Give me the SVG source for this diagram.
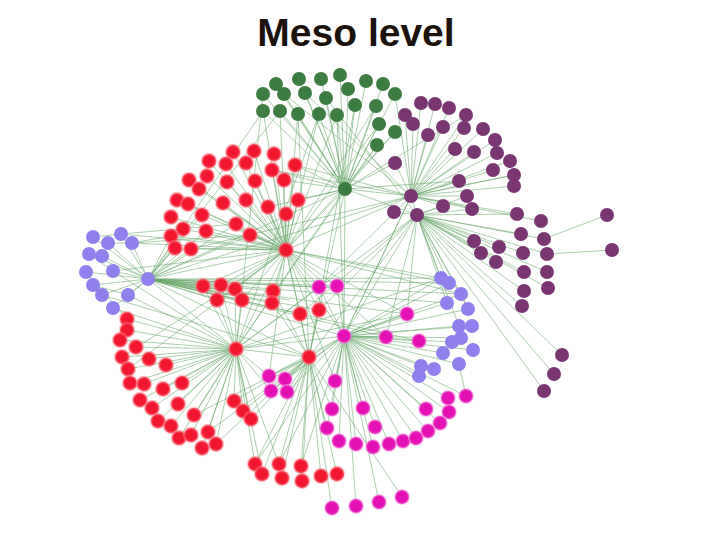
<svg xmlns="http://www.w3.org/2000/svg" width="720" height="540" viewBox="0 0 720 540">
<style>
.e{fill:none;stroke:#6aa86c;stroke-width:.8;stroke-opacity:.7}
.g{fill:#3d7d42}
.p{fill:#7a3673}
.r{fill:#f0172f;stroke:#ff7a86;stroke-width:2.5;stroke-opacity:.45}
.m{fill:#e412b4;stroke:#f590de;stroke-width:2;stroke-opacity:.45}
.l{fill:#8f80ee}
.t{font-family:"Liberation Sans",Arial,sans-serif;font-weight:bold;font-size:39px;fill:#1c120c}
</style>
<rect width="720" height="540" fill="#fff"/>
<text class="t" x="356" y="46" text-anchor="middle">Meso level</text>
<g id="connectors">
<path class="e" d="M345 189L263 94M345 189L276 84M345 189L284 94M345 189L299 79M345 189L305 93M345 189L321 79M345 189L326 98M345 189L340 75M345 189L348 89M345 189L366 81M345 189L383 84M345 189L395 94M345 189L263 111M345 189L280 111M345 189L298 114M345 189L319 114M345 189L337 115M345 189L355 105M345 189L376 106M345 189L379 124M345 189L395 132M345 189L377 145"/>
<path class="e" d="M263 111L286 250M280 111L286 250M298 114L286 250M319 114L286 250M337 115L286 250M284 94L411 196M305 93L411 196M326 98L417 215M376 106L286 250M379 124L286 250M395 132L286 250M377 145L236 349M395 94L411 196M355 105L309 357M337 115L344 336M319 114L236 349M263 111L148 279M280 111L148 279M263 94L236 349M298 114L309 357"/>
<path class="e" d="M345 189L286 250M345 189L411 196M345 189L417 215M345 189L148 279M345 189L344 336M345 189L236 349M345 189L309 357M345 189L295 165M345 189L284 180M345 189L298 200M345 189L395 163M345 189L466 115M345 189L459 181M345 189L272 170M345 189L268 207"/>
<path class="e" d="M411 196L421 103M411 196L435 104M411 196L449 108M411 196L466 115M411 196L405 115M411 196L413 124M411 196L428 135M411 196L443 127M411 196L464 128M411 196L483 129M411 196L495 140M411 196L455 149M411 196L474 152M411 196L497 153M411 196L510 161M411 196L493 170M411 196L514 175M411 196L514 186M411 196L395 163M411 196L459 181M411 196L467 196M411 196L443 206M411 196L472 209M411 196L517 214M411 196L541 221"/>
<path class="e" d="M417 215L394 212M417 215L521 234M417 215L544 239M417 215L474 241M417 215L499 247M417 215L481 253M417 215L523 253M417 215L547 254M417 215L496 262M417 215L524 272M417 215L547 272M417 215L524 291M417 215L548 288M417 215L522 306M417 215L562 355M417 215L554 374M417 215L544 391M417 215L411 196M417 215L443 206M417 215L472 209M417 215L467 196M607 215L544 239M612 250L547 254M411 196L514 175M417 215L517 214"/>
<path class="e" d="M411 196L286 250M411 196L148 279M411 196L344 336M417 215L236 349M417 215L309 357M411 196L319 287M417 215L441 278M417 215L449 283M417 215L461 294M417 215L447 303M417 215L407 314M417 215L386 337M411 196L272 170M411 196L295 165M417 215L300 314M417 215L319 310M417 215L468 309M417 215L459 326M411 196L191 249"/>
<path class="e" d="M286 250L233 152M286 250L254 151M286 250L274 154M286 250L209 161M286 250L226 164M286 250L246 163M286 250L272 170M286 250L295 165M286 250L189 180M286 250L207 176M286 250L227 182M286 250L255 181M286 250L284 180M286 250L199 189M286 250L177 200M286 250L188 204M286 250L223 203M286 250L246 200M286 250L268 207M286 250L298 200M286 250L202 215M286 250L286 214M286 250L171 217M286 250L183 229M286 250L206 231M286 250L236 224M286 250L250 235M286 250L171 236M286 250L175 248M286 250L191 249"/>
<path class="e" d="M286 250L148 279M286 250L203 286M286 250L221 285M286 250L235 289M286 250L217 300M286 250L242 300M286 250L273 291M286 250L272 303M286 250L300 314M286 250L319 310M286 250L319 287M286 250L337 286M286 250L236 349M286 250L309 357M286 250L344 336M286 250L407 314M286 250L441 278M286 250L449 283M286 250L461 294M286 250L335 381M286 250L386 337M286 250L269 376M286 250L122 357M286 250L128 369M286 250L132 243M286 250L121 234M286 250L113 271"/>
<path class="e" d="M148 279L93 237M148 279L121 234M148 279L108 243M148 279L132 243M148 279L89 254M148 279L102 256M148 279L86 272M148 279L113 271M148 279L93 285M148 279L102 295M148 279L128 295M148 279L113 308M93 237L121 234M108 243L132 243M89 254L113 271M93 285L128 295"/>
<path class="e" d="M148 279L203 286M148 279L221 285M148 279L235 289M148 279L217 300M148 279L242 300M148 279L273 291M148 279L272 303M148 279L300 314M148 279L319 310M148 279L319 287M148 279L337 286M148 279L344 336M148 279L309 357M148 279L236 349M148 279L407 314M148 279L441 278M148 279L386 337M148 279L419 341M148 279L461 294M148 279L447 303M148 279L191 249M148 279L175 248M148 279L171 236M148 279L183 229M148 279L202 215M148 279L206 231M148 279L250 235M148 279L236 224M148 279L449 283M148 279L211 290M148 279L230 295M148 279L260 296M148 279L290 300"/>
<path class="e" d="M132 243L171 236M121 234L236 224M113 271L236 349M128 295L236 349M113 308L236 349M102 295L309 357M132 243L250 235M86 272L127 319"/>
<path class="e" d="M236 349L127 319M236 349L127 330M236 349L120 340M236 349L136 347M236 349L122 357M236 349L149 359M236 349L166 365M236 349L128 369M236 349L130 383M236 349L144 384M236 349L163 389M236 349L182 383M236 349L140 400M236 349L152 408M236 349L178 404M236 349L158 421M236 349L194 415M236 349L171 426M236 349L179 438M236 349L191 435M236 349L208 432M236 349L202 448M236 349L216 444M236 349L234 401M236 349L243 411M236 349L251 419"/>
<path class="e" d="M236 349L203 286M236 349L221 285M236 349L235 289M236 349L217 300M236 349L242 300M236 349L344 336M236 349L309 357M236 349L255 464M236 349L262 474M236 349L279 464M236 349L269 376M236 349L271 391M236 349L407 314M236 349L441 278M236 349L319 287"/>
<path class="e" d="M309 357L255 464M309 357L262 474M309 357L279 464M309 357L282 478M309 357L301 466M309 357L302 481M309 357L321 476M309 357L337 474M309 357L269 376M309 357L285 379M309 357L271 391M309 357L287 392M309 357L234 401M309 357L243 411M309 357L251 419M309 357L300 314M309 357L319 310M309 357L273 291M309 357L272 303M309 357L327 428M309 357L332 409M309 357L344 336M309 357L332 508M309 357L402 497M309 357L208 432M309 357L216 444M309 357L194 415M344 336L255 464M344 336L279 464M344 336L301 466"/>
<path class="e" d="M344 336L319 287M344 336L337 286M344 336L407 314M344 336L386 337M344 336L419 341M344 336L335 381M344 336L332 409M344 336L363 408M344 336L426 409M344 336L448 398M344 336L466 396M344 336L449 412M344 336L327 428M344 336L375 427M344 336L440 423M344 336L428 431M344 336L339 441M344 336L356 444M344 336L373 447M344 336L389 444M344 336L403 441M344 336L416 438M344 336L269 376M344 336L285 379M344 336L271 391M344 336L287 392M344 336L356 506M344 336L379 502"/>
<path class="e" d="M344 336L441 278M344 336L449 283M344 336L461 294M344 336L447 303M344 336L468 309M344 336L459 326M344 336L472 326M344 336L461 338M344 336L452 342M344 336L473 350M344 336L443 353M344 336L421 366M344 336L434 369M344 336L459 364M344 336L419 376M344 336L411 196M344 336L417 215M459 364L466 396M441 278L449 283M461 294L468 309M452 342L459 326"/>
</g>
<g id="hub-green"><circle class="g" cx="345" cy="189" r="7"/></g>
<g id="g1"><circle class="g" cx="263" cy="94" r="7"/></g>
<g id="g2"><circle class="g" cx="276" cy="84" r="7"/></g>
<g id="g3"><circle class="g" cx="284" cy="94" r="7"/></g>
<g id="g4"><circle class="g" cx="299" cy="79" r="7"/></g>
<g id="g5"><circle class="g" cx="305" cy="93" r="7"/></g>
<g id="g6"><circle class="g" cx="321" cy="79" r="7"/></g>
<g id="g7"><circle class="g" cx="326" cy="98" r="7"/></g>
<g id="g8"><circle class="g" cx="340" cy="75" r="7"/></g>
<g id="g9"><circle class="g" cx="348" cy="89" r="7"/></g>
<g id="g10"><circle class="g" cx="366" cy="81" r="7"/></g>
<g id="g11"><circle class="g" cx="383" cy="84" r="7"/></g>
<g id="g12"><circle class="g" cx="395" cy="94" r="7"/></g>
<g id="g13"><circle class="g" cx="263" cy="111" r="7"/></g>
<g id="g14"><circle class="g" cx="280" cy="111" r="7"/></g>
<g id="g15"><circle class="g" cx="298" cy="114" r="7"/></g>
<g id="g16"><circle class="g" cx="319" cy="114" r="7"/></g>
<g id="g17"><circle class="g" cx="337" cy="115" r="7"/></g>
<g id="g18"><circle class="g" cx="355" cy="105" r="7"/></g>
<g id="g19"><circle class="g" cx="376" cy="106" r="7"/></g>
<g id="g20"><circle class="g" cx="379" cy="124" r="7"/></g>
<g id="g21"><circle class="g" cx="395" cy="132" r="7"/></g>
<g id="g22"><circle class="g" cx="377" cy="145" r="7"/></g>
<g id="hub-purple-a"><circle class="p" cx="411" cy="196" r="7"/></g>
<g id="hub-purple-b"><circle class="p" cx="417" cy="215" r="7"/></g>
<g id="p1"><circle class="p" cx="421" cy="103" r="7"/></g>
<g id="p2"><circle class="p" cx="435" cy="104" r="7"/></g>
<g id="p3"><circle class="p" cx="449" cy="108" r="7"/></g>
<g id="p4"><circle class="p" cx="466" cy="115" r="7"/></g>
<g id="p5"><circle class="p" cx="405" cy="115" r="7"/></g>
<g id="p6"><circle class="p" cx="413" cy="124" r="7"/></g>
<g id="p7"><circle class="p" cx="428" cy="135" r="7"/></g>
<g id="p8"><circle class="p" cx="443" cy="127" r="7"/></g>
<g id="p9"><circle class="p" cx="464" cy="128" r="7"/></g>
<g id="p10"><circle class="p" cx="483" cy="129" r="7"/></g>
<g id="p11"><circle class="p" cx="495" cy="140" r="7"/></g>
<g id="p12"><circle class="p" cx="455" cy="149" r="7"/></g>
<g id="p13"><circle class="p" cx="474" cy="152" r="7"/></g>
<g id="p14"><circle class="p" cx="497" cy="153" r="7"/></g>
<g id="p15"><circle class="p" cx="510" cy="161" r="7"/></g>
<g id="p16"><circle class="p" cx="493" cy="170" r="7"/></g>
<g id="p17"><circle class="p" cx="514" cy="175" r="7"/></g>
<g id="p18"><circle class="p" cx="514" cy="186" r="7"/></g>
<g id="p19"><circle class="p" cx="395" cy="163" r="7"/></g>
<g id="p20"><circle class="p" cx="459" cy="181" r="7"/></g>
<g id="p21"><circle class="p" cx="467" cy="196" r="7"/></g>
<g id="p22"><circle class="p" cx="443" cy="206" r="7"/></g>
<g id="p23"><circle class="p" cx="472" cy="209" r="7"/></g>
<g id="p24"><circle class="p" cx="394" cy="212" r="7"/></g>
<g id="p25"><circle class="p" cx="517" cy="214" r="7"/></g>
<g id="p26"><circle class="p" cx="541" cy="221" r="7"/></g>
<g id="p27"><circle class="p" cx="607" cy="215" r="7"/></g>
<g id="p28"><circle class="p" cx="521" cy="234" r="7"/></g>
<g id="p29"><circle class="p" cx="544" cy="239" r="7"/></g>
<g id="p30"><circle class="p" cx="474" cy="241" r="7"/></g>
<g id="p31"><circle class="p" cx="499" cy="247" r="7"/></g>
<g id="p32"><circle class="p" cx="481" cy="253" r="7"/></g>
<g id="p33"><circle class="p" cx="523" cy="253" r="7"/></g>
<g id="p34"><circle class="p" cx="547" cy="254" r="7"/></g>
<g id="p35"><circle class="p" cx="612" cy="250" r="7"/></g>
<g id="p36"><circle class="p" cx="496" cy="262" r="7"/></g>
<g id="p37"><circle class="p" cx="524" cy="272" r="7"/></g>
<g id="p38"><circle class="p" cx="547" cy="272" r="7"/></g>
<g id="p39"><circle class="p" cx="524" cy="291" r="7"/></g>
<g id="p40"><circle class="p" cx="548" cy="288" r="7"/></g>
<g id="p41"><circle class="p" cx="522" cy="306" r="7"/></g>
<g id="p42"><circle class="p" cx="562" cy="355" r="7"/></g>
<g id="p43"><circle class="p" cx="554" cy="374" r="7"/></g>
<g id="p44"><circle class="p" cx="544" cy="391" r="7"/></g>
<g id="hub-red-top"><circle class="r" cx="286" cy="250" r="7"/></g>
<g id="hub-red-left"><circle class="r" cx="236" cy="349" r="7"/></g>
<g id="hub-red-mid"><circle class="r" cx="309" cy="357" r="7"/></g>
<g id="r1"><circle class="r" cx="233" cy="152" r="7"/></g>
<g id="r2"><circle class="r" cx="254" cy="151" r="7"/></g>
<g id="r3"><circle class="r" cx="274" cy="154" r="7"/></g>
<g id="r4"><circle class="r" cx="209" cy="161" r="7"/></g>
<g id="r5"><circle class="r" cx="226" cy="164" r="7"/></g>
<g id="r6"><circle class="r" cx="246" cy="163" r="7"/></g>
<g id="r7"><circle class="r" cx="272" cy="170" r="7"/></g>
<g id="r8"><circle class="r" cx="295" cy="165" r="7"/></g>
<g id="r9"><circle class="r" cx="189" cy="180" r="7"/></g>
<g id="r10"><circle class="r" cx="207" cy="176" r="7"/></g>
<g id="r11"><circle class="r" cx="227" cy="182" r="7"/></g>
<g id="r12"><circle class="r" cx="255" cy="181" r="7"/></g>
<g id="r13"><circle class="r" cx="284" cy="180" r="7"/></g>
<g id="r14"><circle class="r" cx="199" cy="189" r="7"/></g>
<g id="r15"><circle class="r" cx="177" cy="200" r="7"/></g>
<g id="r16"><circle class="r" cx="188" cy="204" r="7"/></g>
<g id="r17"><circle class="r" cx="223" cy="203" r="7"/></g>
<g id="r18"><circle class="r" cx="246" cy="200" r="7"/></g>
<g id="r19"><circle class="r" cx="268" cy="207" r="7"/></g>
<g id="r20"><circle class="r" cx="298" cy="200" r="7"/></g>
<g id="r21"><circle class="r" cx="202" cy="215" r="7"/></g>
<g id="r22"><circle class="r" cx="286" cy="214" r="7"/></g>
<g id="r23"><circle class="r" cx="171" cy="217" r="7"/></g>
<g id="r24"><circle class="r" cx="183" cy="229" r="7"/></g>
<g id="r25"><circle class="r" cx="206" cy="231" r="7"/></g>
<g id="r26"><circle class="r" cx="236" cy="224" r="7"/></g>
<g id="r27"><circle class="r" cx="250" cy="235" r="7"/></g>
<g id="r28"><circle class="r" cx="171" cy="236" r="7"/></g>
<g id="r29"><circle class="r" cx="175" cy="248" r="7"/></g>
<g id="r30"><circle class="r" cx="191" cy="249" r="7"/></g>
<g id="r31"><circle class="r" cx="203" cy="286" r="7"/></g>
<g id="r32"><circle class="r" cx="221" cy="285" r="7"/></g>
<g id="r33"><circle class="r" cx="235" cy="289" r="7"/></g>
<g id="r34"><circle class="r" cx="217" cy="300" r="7"/></g>
<g id="r35"><circle class="r" cx="242" cy="300" r="7"/></g>
<g id="r36"><circle class="r" cx="273" cy="291" r="7"/></g>
<g id="r37"><circle class="r" cx="272" cy="303" r="7"/></g>
<g id="r38"><circle class="r" cx="300" cy="314" r="7"/></g>
<g id="r39"><circle class="r" cx="319" cy="310" r="7"/></g>
<g id="r40"><circle class="r" cx="127" cy="319" r="7"/></g>
<g id="r41"><circle class="r" cx="127" cy="330" r="7"/></g>
<g id="r42"><circle class="r" cx="120" cy="340" r="7"/></g>
<g id="r43"><circle class="r" cx="136" cy="347" r="7"/></g>
<g id="r44"><circle class="r" cx="122" cy="357" r="7"/></g>
<g id="r45"><circle class="r" cx="149" cy="359" r="7"/></g>
<g id="r46"><circle class="r" cx="166" cy="365" r="7"/></g>
<g id="r47"><circle class="r" cx="128" cy="369" r="7"/></g>
<g id="r48"><circle class="r" cx="130" cy="383" r="7"/></g>
<g id="r49"><circle class="r" cx="144" cy="384" r="7"/></g>
<g id="r50"><circle class="r" cx="163" cy="389" r="7"/></g>
<g id="r51"><circle class="r" cx="182" cy="383" r="7"/></g>
<g id="r52"><circle class="r" cx="140" cy="400" r="7"/></g>
<g id="r53"><circle class="r" cx="152" cy="408" r="7"/></g>
<g id="r54"><circle class="r" cx="178" cy="404" r="7"/></g>
<g id="r55"><circle class="r" cx="158" cy="421" r="7"/></g>
<g id="r56"><circle class="r" cx="194" cy="415" r="7"/></g>
<g id="r57"><circle class="r" cx="171" cy="426" r="7"/></g>
<g id="r58"><circle class="r" cx="179" cy="438" r="7"/></g>
<g id="r59"><circle class="r" cx="191" cy="435" r="7"/></g>
<g id="r60"><circle class="r" cx="208" cy="432" r="7"/></g>
<g id="r61"><circle class="r" cx="202" cy="448" r="7"/></g>
<g id="r62"><circle class="r" cx="216" cy="444" r="7"/></g>
<g id="r63"><circle class="r" cx="234" cy="401" r="7"/></g>
<g id="r64"><circle class="r" cx="243" cy="411" r="7"/></g>
<g id="r65"><circle class="r" cx="251" cy="419" r="7"/></g>
<g id="r66"><circle class="r" cx="255" cy="464" r="7"/></g>
<g id="r67"><circle class="r" cx="262" cy="474" r="7"/></g>
<g id="r68"><circle class="r" cx="279" cy="464" r="7"/></g>
<g id="r69"><circle class="r" cx="282" cy="478" r="7"/></g>
<g id="r70"><circle class="r" cx="301" cy="466" r="7"/></g>
<g id="r71"><circle class="r" cx="302" cy="481" r="7"/></g>
<g id="r72"><circle class="r" cx="321" cy="476" r="7"/></g>
<g id="r73"><circle class="r" cx="337" cy="474" r="7"/></g>
<g id="hub-lavender"><circle class="l" cx="148" cy="279" r="7"/></g>
<g id="l1"><circle class="l" cx="93" cy="237" r="7"/></g>
<g id="l2"><circle class="l" cx="121" cy="234" r="7"/></g>
<g id="l3"><circle class="l" cx="108" cy="243" r="7"/></g>
<g id="l4"><circle class="l" cx="132" cy="243" r="7"/></g>
<g id="l5"><circle class="l" cx="89" cy="254" r="7"/></g>
<g id="l6"><circle class="l" cx="102" cy="256" r="7"/></g>
<g id="l7"><circle class="l" cx="86" cy="272" r="7"/></g>
<g id="l8"><circle class="l" cx="113" cy="271" r="7"/></g>
<g id="l9"><circle class="l" cx="93" cy="285" r="7"/></g>
<g id="l10"><circle class="l" cx="102" cy="295" r="7"/></g>
<g id="l11"><circle class="l" cx="128" cy="295" r="7"/></g>
<g id="l12"><circle class="l" cx="113" cy="308" r="7"/></g>
<g id="l13"><circle class="l" cx="441" cy="278" r="7"/></g>
<g id="l14"><circle class="l" cx="449" cy="283" r="7"/></g>
<g id="l15"><circle class="l" cx="461" cy="294" r="7"/></g>
<g id="l16"><circle class="l" cx="447" cy="303" r="7"/></g>
<g id="l17"><circle class="l" cx="468" cy="309" r="7"/></g>
<g id="l18"><circle class="l" cx="459" cy="326" r="7"/></g>
<g id="l19"><circle class="l" cx="472" cy="326" r="7"/></g>
<g id="l20"><circle class="l" cx="461" cy="338" r="7"/></g>
<g id="l21"><circle class="l" cx="452" cy="342" r="7"/></g>
<g id="l22"><circle class="l" cx="473" cy="350" r="7"/></g>
<g id="l23"><circle class="l" cx="443" cy="353" r="7"/></g>
<g id="l24"><circle class="l" cx="421" cy="366" r="7"/></g>
<g id="l25"><circle class="l" cx="434" cy="369" r="7"/></g>
<g id="l26"><circle class="l" cx="459" cy="364" r="7"/></g>
<g id="l27"><circle class="l" cx="419" cy="376" r="7"/></g>
<g id="hub-magenta"><circle class="m" cx="344" cy="336" r="7"/></g>
<g id="m1"><circle class="m" cx="319" cy="287" r="7"/></g>
<g id="m2"><circle class="m" cx="337" cy="286" r="7"/></g>
<g id="m3"><circle class="m" cx="407" cy="314" r="7"/></g>
<g id="m4"><circle class="m" cx="386" cy="337" r="7"/></g>
<g id="m5"><circle class="m" cx="419" cy="341" r="7"/></g>
<g id="m6"><circle class="m" cx="269" cy="376" r="7"/></g>
<g id="m7"><circle class="m" cx="285" cy="379" r="7"/></g>
<g id="m8"><circle class="m" cx="271" cy="391" r="7"/></g>
<g id="m9"><circle class="m" cx="287" cy="392" r="7"/></g>
<g id="m10"><circle class="m" cx="335" cy="381" r="7"/></g>
<g id="m11"><circle class="m" cx="332" cy="409" r="7"/></g>
<g id="m12"><circle class="m" cx="363" cy="408" r="7"/></g>
<g id="m13"><circle class="m" cx="426" cy="409" r="7"/></g>
<g id="m14"><circle class="m" cx="448" cy="398" r="7"/></g>
<g id="m15"><circle class="m" cx="466" cy="396" r="7"/></g>
<g id="m16"><circle class="m" cx="449" cy="412" r="7"/></g>
<g id="m17"><circle class="m" cx="327" cy="428" r="7"/></g>
<g id="m18"><circle class="m" cx="375" cy="427" r="7"/></g>
<g id="m19"><circle class="m" cx="440" cy="423" r="7"/></g>
<g id="m20"><circle class="m" cx="428" cy="431" r="7"/></g>
<g id="m21"><circle class="m" cx="339" cy="441" r="7"/></g>
<g id="m22"><circle class="m" cx="356" cy="444" r="7"/></g>
<g id="m23"><circle class="m" cx="373" cy="447" r="7"/></g>
<g id="m24"><circle class="m" cx="389" cy="444" r="7"/></g>
<g id="m25"><circle class="m" cx="403" cy="441" r="7"/></g>
<g id="m26"><circle class="m" cx="416" cy="438" r="7"/></g>
<g id="m27"><circle class="m" cx="332" cy="508" r="7"/></g>
<g id="m28"><circle class="m" cx="356" cy="506" r="7"/></g>
<g id="m29"><circle class="m" cx="379" cy="502" r="7"/></g>
<g id="m30"><circle class="m" cx="402" cy="497" r="7"/></g>
</svg>
